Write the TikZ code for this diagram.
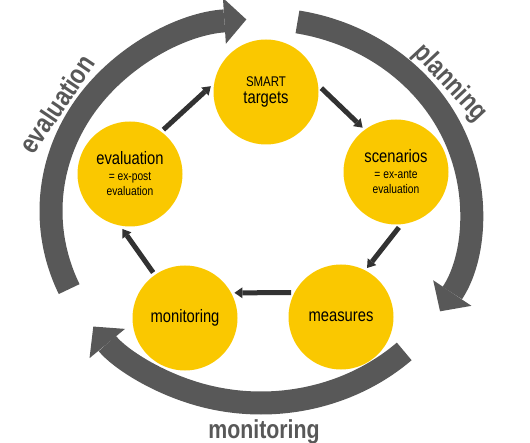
\documentclass[tikz,border=0pt]{standalone}
\usepackage{fontspec}
\usepackage{tikz}
\usetikzlibrary{arrows.meta}

\newfontfamily\stagefont{Liberation Sans}[FakeStretch=0.82]
\definecolor{stageyellow}{RGB}{250,200,0}
\definecolor{ringgray}{RGB}{88,88,88}
\definecolor{flowgray}{RGB}{50,50,50}
\newcommand{\bigword}[1]{{\fontsize{18}{18}\selectfont #1}}

\begin{document}
\begin{tikzpicture}[
    x=1pt, y=1pt,
    stage/.style={circle, fill=stageyellow, minimum size=105pt, inner sep=0pt,
        outer sep=3pt, align=center, font=\stagefont\fontsize{12.5}{15.5}\selectfont},
    flow/.style={-{Triangle[width=11pt, length=8pt, line width=0pt]},
        line width=5pt, draw=flowgray},
    ring/.style={-{Triangle[width=46pt, length=22pt, line width=0pt]},
        line width=23pt, draw=ringgray},
    ringlabel/.style={text=ringgray, font=\stagefont\bfseries\fontsize{27.5}{27.5}\selectfont}
]
\useasboundingbox (0,0) rectangle (530,442);
\coordinate (hub) at (261,231);

\node[stage] (tg) at (266,350) {{\fontsize{14}{14}\selectfont SMART}\\[2pt]\bigword{targets}};
\node[stage] (sc) at (396,270) {\bigword{scenarios}\\= ex-ante\\evaluation};
\node[stage] (me) at (341,125) {\bigword{measures}};
\node[stage] (mo) at (185,124) {\bigword{monitoring}};
\node[stage] (ev) at (130,268) {\bigword{evaluation}\\= ex-post\\evaluation};

\draw[flow] (ev.53) -- (tg.174);
\draw[flow] (tg.4) -- (sc.127);
\draw[flow] (sc.-87) -- (me.62);
\draw[flow] (me.154) -- (mo.27);
\draw[flow] (mo.125) -- (ev.-98);

\draw[ring] ([shift={(204:210 and 192)}]hub) arc[start angle=204, end angle=94, x radius=210, y radius=192];
\draw[ring] ([shift={(80:210 and 192)}]hub) arc[start angle=80, end angle=-31.5, x radius=210, y radius=192];
\draw[ring] ([shift={(-47:210 and 192)}]hub) arc[start angle=-47, end angle=-143, x radius=210, y radius=192];

\node[ringlabel, rotate=56] (evlabel) at (57,338) {evaluation};
\node[ringlabel, rotate=-47] (pllabel) at (450,359) {planning};
\node[ringlabel, font=\stagefont\bfseries\fontsize{26}{26}\selectfont, anchor=base] (molabel) at (264,4) {monitoring};
\end{tikzpicture}
\end{document}
